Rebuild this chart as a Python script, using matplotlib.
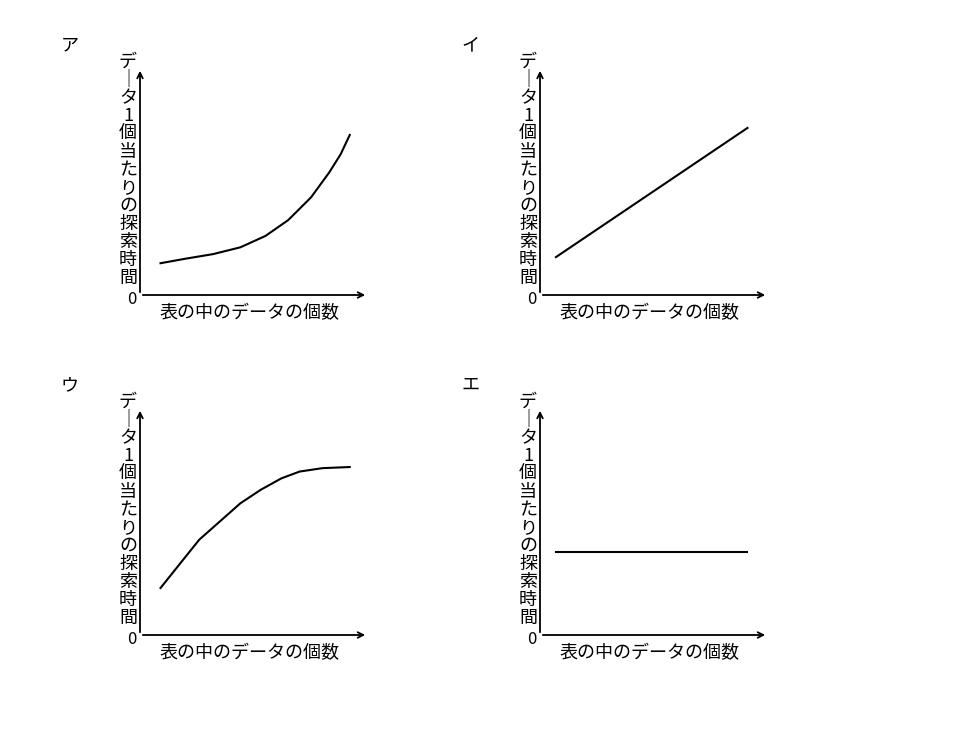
import matplotlib.pyplot as plt

plt.rcParams['font.family'] = ['Noto Sans CJK JP', 'DejaVu Sans']

panel_names = ["ア", "イ", "ウ", "エ"]
y_label = "データ1個当たりの探索時間"
x_label = "表の中のデータの個数"

a_x = [0.9, 2.0, 3.2, 4.4, 5.5, 6.5, 7.5, 8.3, 8.8, 9.2]
a_y = [1.4, 1.6, 1.8, 2.1, 2.6, 3.3, 4.3, 5.4, 6.2, 7.05]
i_x = [0.7, 9.1]
i_y = [1.67, 7.36]
u_x = [0.9, 1.8, 2.6, 3.5, 4.4, 5.3, 6.2, 7.0, 8.0, 9.2]
u_y = [2.07, 3.2, 4.2, 5.0, 5.8, 6.4, 6.9, 7.2, 7.35, 7.4]
e_x = [0.7, 9.1]
e_y = [3.66, 3.66]

series = [(a_x, a_y), (i_x, i_y), (u_x, u_y), (e_x, e_y)]
origins = [(140, 295), (540, 295), (140, 635), (540, 635)]

W, H = 974, 730
fig = plt.figure(figsize=(W / 100, H / 100), dpi=100)

vlabel = "\n".join(y_label.replace("ー", "｜"))

for name, (xs, ys), (ox, oy) in zip(panel_names, series, origins):
    w, h = 228, 227
    ax = fig.add_axes([ox / W, 1 - oy / H, w / W, h / H])
    ax.set_xlim(0, 10)
    ax.set_ylim(0, 10)
    ax.axis('off')
    ax.plot(xs, ys, color='black', lw=1.5)
    ax.annotate('', xy=(10, 0), xytext=(0, 0),
                arrowprops=dict(arrowstyle='->', lw=1.3, color='black'),
                annotation_clip=False)
    ax.annotate('', xy=(0, 10), xytext=(0, 0),
                arrowprops=dict(arrowstyle='->', lw=1.3, color='black'),
                annotation_clip=False)
    fig.text((ox - 8) / W, 1 - (oy + 5) / H, "0", fontsize=12, ha='center', va='center')
    fig.text((ox + 110) / W, 1 - (oy + 18) / H, x_label, fontsize=13, ha='center', va='center')
    fig.text((ox - 12) / W, 1 - 170 / H - (oy - 295) / H, vlabel, fontsize=13,
             ha='center', va='center', linespacing=1.0)
    fig.text((ox - 70) / W, 1 - (oy - 250) / H, name, fontsize=13, ha='center', va='center')

fig.savefig("out.png", dpi=100)
